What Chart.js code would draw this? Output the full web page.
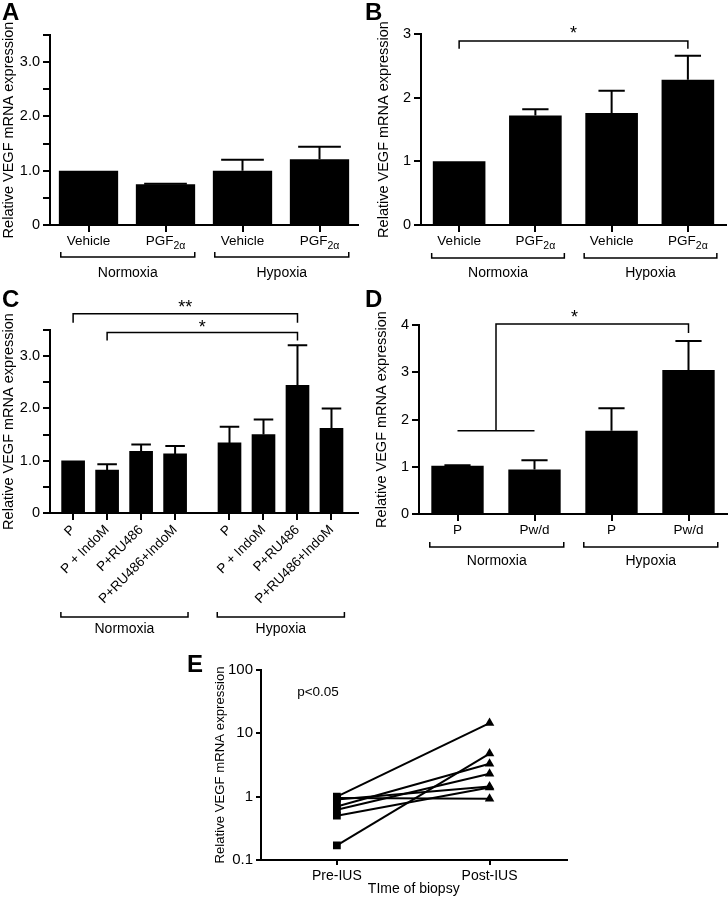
<!DOCTYPE html>
<html>
<head>
<meta charset="utf-8">
<script src="https://cdn.jsdelivr.net/npm/chart.js@4.4.0/dist/chart.umd.min.js"></script>
<style>
  body { margin: 0; background: #fff; width: 728px; height: 899px; position: relative; overflow: hidden;
         font-family: "Liberation Sans", Arial, sans-serif; }
  canvas { position: absolute; }
  .lbl { position: absolute; font-weight: bold; font-size: 24px; line-height: 24px; color: #000; }
</style>
</head>
<body>
<canvas id="chartA" width="364" height="300" style="left:0;top:0"></canvas>
<canvas id="chartB" width="364" height="300" style="left:364px;top:0"></canvas>
<canvas id="chartC" width="364" height="350" style="left:0;top:290px"></canvas>
<canvas id="chartD" width="364" height="300" style="left:364px;top:290px"></canvas>
<canvas id="chartE" width="392" height="254" style="left:180px;top:645px"></canvas>
<div class="lbl" style="left:2px;top:0">A</div>
<div class="lbl" style="left:365px;top:0">B</div>
<div class="lbl" style="left:2px;top:287px">C</div>
<div class="lbl" style="left:365px;top:287px">D</div>
<div class="lbl" style="left:187px;top:652px">E</div>
<script>
// data
const yTitle = 'Relative VEGF mRNA expression'
const groupsNH = ['Normoxia', 'Hypoxia']
const catsAB = ['Vehicle', 'PGF_2α', 'Vehicle', 'PGF_2α']
const valsA = [1.0, 0.75, 1.0, 1.21]
const errA = [0, 0.01, 0.2, 0.23]
const valsB = [1.0, 1.72, 1.76, 2.28]
const errB = [0, 0.1, 0.35, 0.38]
const catsC = ['P', 'P + IndoM', 'P+RU486', 'P+RU486+IndoM', 'P', 'P + IndoM', 'P+RU486', 'P+RU486+IndoM']
const valsC = [1.0, 0.82, 1.18, 1.13, 1.34, 1.5, 2.44, 1.62]
const errC = [0, 0.11, 0.13, 0.15, 0.31, 0.29, 0.77, 0.38]
const catsD = ['P', 'Pw/d', 'P', 'Pw/d']
const valsD = [1.02, 0.94, 1.76, 3.05]
const errD = [0.01, 0.2, 0.48, 0.61]
const timeLabels = ['Pre-IUS', 'Post-IUS']
const preIUS = [1.0, 0.95, 0.9, 0.7, 0.62, 0.5, 0.17]
const postIUS = [14.5, 0.93, 1.45, 3.3, 2.3, 1.4, 4.8]
const ticksE = [0.1, 1, 10, 100]

// significance brackets, in (category, value) units
const sigB = [{ path: [[0, 2.77], [0, 2.89], [3, 2.89], [3, 2.77]], mark: '*', at: [1.5, 3.06] }]
const sigC = [
    { path: [[0, 3.64], [0, 3.81], [6.6, 3.81], [6.6, 3.64]], mark: '**', at: [3.3, 4.0] },
    { path: [[1, 3.3], [1, 3.45], [6.6, 3.45], [6.6, 3.3]], mark: '*', at: [3.8, 3.62] }
]
const sigD = [
    { path: [[0, 1.76], [1, 1.76]] },
    { path: [[0.5, 1.76], [0.5, 4.02], [3, 4.02], [3, 3.83]], mark: '*', at: [1.52, 4.23] }
]

const FONT = '"Liberation Sans", Arial, sans-serif'
Chart.defaults.font.family = FONT
Chart.defaults.color = '#000'
Chart.defaults.animation = false
Chart.defaults.plugins.legend.display = false
Chart.defaults.plugins.tooltip.enabled = false

// C: hypoxia bars sit a little further right
const posC = catsC.map((c, i) => i < 4 ? i : i + 0.6)

const extras = {
    id: 'extras',
    afterDraw(chart, args, o) {
        const ctx = chart.ctx
        const xs = chart.scales.x, ys = chart.scales.y
        const px = v => xs.getPixelForValue(v), py = v => ys.getPixelForValue(v)
        const bottom = chart.chartArea.bottom
        ctx.save()
        ctx.strokeStyle = '#000'
        ctx.fillStyle = '#000'

        if (o.err) {
            const meta = chart.getDatasetMeta(0)
            const data = chart.data.datasets[0].data
            meta.data.forEach((bar, i) => {
                if (!o.err[i]) return
                const v = typeof data[i] === 'object' ? data[i].y : data[i]
                const top = py(v + o.err[i])
                const half = bar.width * o.cap / 2
                ctx.lineWidth = 2
                ctx.beginPath()
                ctx.moveTo(bar.x, bar.y)
                ctx.lineTo(bar.x, top)
                ctx.moveTo(bar.x - half, top)
                ctx.lineTo(bar.x + half, top)
                ctx.stroke()
            })
        }

        if (o.cats) {
            ctx.textAlign = 'left'
            ctx.textBaseline = 'alphabetic'
            o.cats.forEach((c, i) => {
                const [main, sub] = c.split('_')
                ctx.font = '13.5px ' + FONT
                const w1 = ctx.measureText(main).width
                let w2 = 0
                if (sub) {
                    ctx.font = '10.5px ' + FONT
                    w2 = ctx.measureText(sub).width
                }
                const x = px(i) - (w1 + w2) / 2
                ctx.font = '13.5px ' + FONT
                ctx.fillText(main, x, bottom + 20)
                if (sub) {
                    ctx.font = '10.5px ' + FONT
                    ctx.fillText(sub, x + w1, bottom + 24)
                }
            })
        }

        if (o.groups) {
            const yb = bottom + o.grpDy
            o.groups.forEach(g => {
                const x1 = px(g.from - 0.36), x2 = px(g.to + 0.38)
                ctx.lineWidth = 1.5
                ctx.beginPath()
                ctx.moveTo(x1, yb - 5)
                ctx.lineTo(x1, yb)
                ctx.lineTo(x2, yb)
                ctx.lineTo(x2, yb - 5)
                ctx.stroke()
                ctx.font = '14px ' + FONT
                ctx.textAlign = 'center'
                ctx.textBaseline = 'alphabetic'
                ctx.fillText(g.label, (x1 + x2) / 2, bottom + o.lblDy)
            })
        }

        (o.sig || []).forEach(s => {
            ctx.lineWidth = 1.5
            ctx.beginPath()
            s.path.forEach(([x, y], k) => k ? ctx.lineTo(px(x), py(y)) : ctx.moveTo(px(x), py(y)))
            ctx.stroke()
            if (s.mark) {
                ctx.font = '18px ' + FONT
                ctx.textAlign = 'center'
                ctx.textBaseline = 'middle'
                ctx.fillText(s.mark, px(s.at[0]), py(s.at[1]) + 4)
            }
        });

        (o.texts || []).forEach(t => {
            ctx.font = '13.5px ' + FONT
            ctx.textAlign = 'left'
            ctx.textBaseline = 'middle'
            ctx.fillText(t.text, px(t.at[0]), py(t.at[1]))
        })
        ctx.restore()
    }
}
Chart.register(extras)

const axisGrid = { display: true, drawOnChartArea: false, drawTicks: true, tickLength: 7, color: '#000', lineWidth: 2, offset: false }
const axisBorder = { display: true, color: '#000', width: 2 }
const fmtDec = v => v === 0 ? '0' : (Number.isInteger(v) ? v.toFixed(1) : '')
const fmtInt = v => String(v)

function yAxis(max, step, fmt, width, titleSize) {
    return {
        min: 0, max: max,
        grid: axisGrid, border: axisBorder,
        ticks: { stepSize: step, font: { size: 14.5 }, color: '#000', padding: 3, callback: fmt },
        title: { display: true, text: yTitle, font: { size: titleSize }, color: '#000', padding: 0 },
        afterFit: s => { s.width = width }
    }
}

function catAxis(height) {
    return {
        offset: true, grid: axisGrid, border: axisBorder,
        ticks: { display: false },
        afterFit: s => { s.height = height }
    }
}

function groupsOf(a, b) {
    return [{ label: groupsNH[0], from: a[0], to: a[1] }, { label: groupsNH[1], from: b[0], to: b[1] }]
}

// A
new Chart(document.getElementById('chartA'), {
    type: 'bar',
    data: { labels: catsAB, datasets: [{ data: valsA, backgroundColor: '#000', barPercentage: 0.77, categoryPercentage: 1 }] },
    options: {
        responsive: false,
        layout: { padding: { left: 0, top: 35, right: 6, bottom: 0 } },
        scales: { x: catAxis(75), y: yAxis(3.5, 0.5, fmtDec, 50, 14.5) },
        plugins: { extras: { err: errA, cap: 0.72, cats: catsAB, groups: groupsOf([0, 1], [2, 3]), grpDy: 32, lblDy: 52 } }
    }
})

// B
new Chart(document.getElementById('chartB'), {
    type: 'bar',
    data: { labels: catsAB, datasets: [{ data: valsB, backgroundColor: '#000', barPercentage: 0.69, categoryPercentage: 1 }] },
    options: {
        responsive: false,
        layout: { padding: { left: 11, top: 34, right: 2, bottom: 0 } },
        scales: { x: catAxis(75), y: yAxis(3, 1, fmtInt, 46, 14.5) },
        plugins: { extras: { err: errB, cap: 0.5, cats: catsAB, groups: groupsOf([0, 1], [2, 3]), grpDy: 33, lblDy: 52, sig: sigB } }
    }
})

// C
new Chart(document.getElementById('chartC'), {
    type: 'bar',
    data: { datasets: [{ data: valsC.map((v, i) => ({ x: posC[i], y: v })), backgroundColor: '#000', barThickness: 23 }] },
    options: {
        responsive: false,
        layout: { padding: { left: 0, top: 40, right: 6, bottom: 0 } },
        scales: {
            x: {
                type: 'linear', min: -0.68, max: 8.38, offset: false,
                grid: axisGrid, border: axisBorder,
                afterBuildTicks: s => { s.ticks = posC.map(v => ({ value: v })) },
                ticks: { autoSkip: false, minRotation: 45, maxRotation: 45, font: { size: 13.5 }, color: '#000', padding: 2,
                    callback: (v, i) => catsC[i] },
                afterFit: s => { s.height = 127 }
            },
            y: yAxis(3.5, 0.5, fmtDec, 50, 14.5)
        },
        plugins: { extras: { err: errC, cap: 0.85, groups: groupsOf([posC[0], posC[3]], [posC[4], posC[7]]), grpDy: 104, lblDy: 120, sig: sigC } }
    }
})

// D
new Chart(document.getElementById('chartD'), {
    type: 'bar',
    data: { labels: catsD, datasets: [{ data: valsD, backgroundColor: '#000', barPercentage: 0.68, categoryPercentage: 1 }] },
    options: {
        responsive: false,
        layout: { padding: { left: 9, top: 35, right: 1, bottom: 0 } },
        scales: { x: catAxis(76), y: yAxis(4, 1, fmtInt, 46, 14.5) },
        plugins: { extras: { err: errD, cap: 0.5, cats: catsD, groups: groupsOf([0, 1], [2, 3]), grpDy: 33, lblDy: 51, sig: sigD } }
    }
})

// E
new Chart(document.getElementById('chartE'), {
    type: 'line',
    data: {
        datasets: preIUS.map((p, i) => ({
            data: [{ x: 0, y: p }, { x: 1, y: postIUS[i] }],
            borderColor: '#000', borderWidth: 2,
            pointStyle: ['rect', 'triangle'], pointRadius: 5.5,
            pointBackgroundColor: '#000', pointBorderColor: '#000', pointBorderWidth: 0
        }))
    },
    options: {
        responsive: false,
        layout: { padding: { left: 32, top: 25, right: 4, bottom: 0 } },
        scales: {
            x: {
                type: 'linear', min: -0.497, max: 1.504,
                grid: { ...axisGrid, tickLength: 5 }, border: axisBorder,
                afterBuildTicks: s => { s.ticks = [0, 1].map(v => ({ value: v })) },
                ticks: { font: { size: 14 }, color: '#000', padding: 3, callback: v => timeLabels[v] },
                title: { display: true, text: 'TIme of biopsy', font: { size: 14 }, color: '#000', padding: { top: 0, bottom: 1 } },
                afterFit: s => { s.height = 39 }
            },
            y: {
                type: 'logarithmic', min: 0.1, max: 100,
                grid: { ...axisGrid, tickLength: 5 }, border: axisBorder,
                afterBuildTicks: s => { s.ticks = ticksE.map(v => ({ value: v })) },
                ticks: { font: { size: 15 }, color: '#000', padding: 3, callback: v => String(v) },
                title: { display: true, text: yTitle, font: { size: 13.2 }, color: '#000', padding: 0 },
                afterFit: s => { s.width = 49 }
            }
        },
        plugins: { extras: { texts: [{ text: 'p<0.05', at: [-0.26, 44] }] } }
    }
})
</script>
</body>
</html>
